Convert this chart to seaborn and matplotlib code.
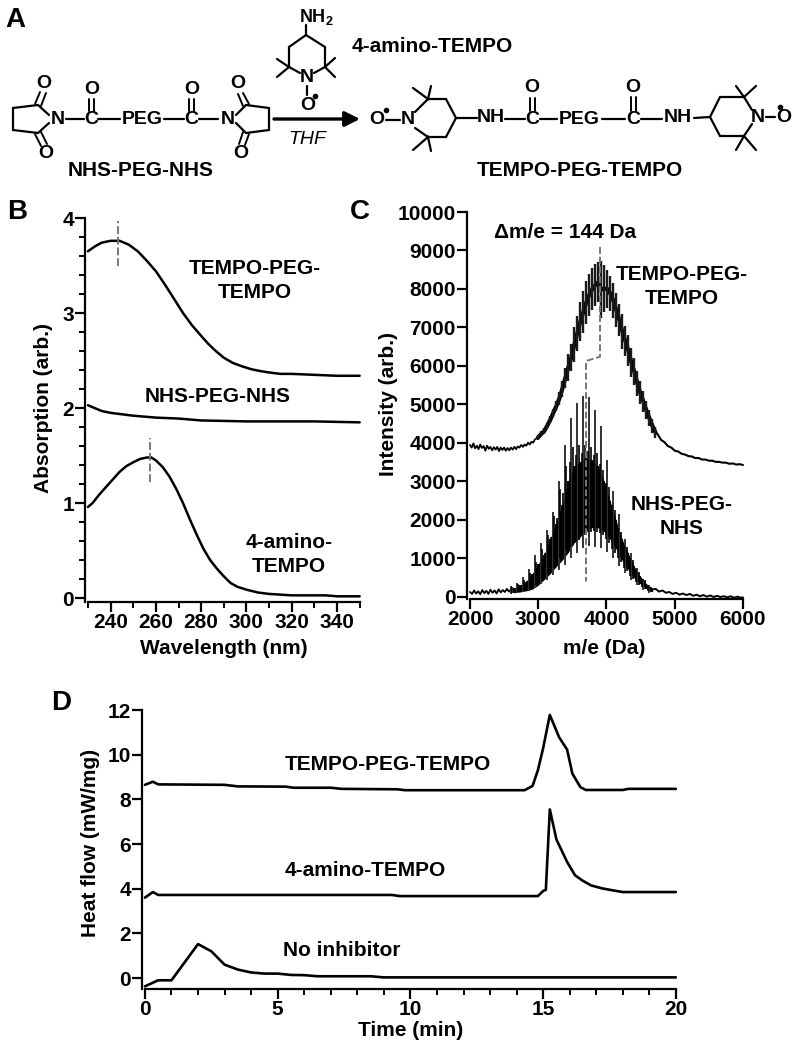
# plot.py - PEG end-capping scheme with UV, mass spec and DSC panels
import matplotlib
matplotlib.use("Agg")
import matplotlib.pyplot as plt
import seaborn as sns

sns.set_style("ticks")
plt.rcParams["font.family"] = ["Liberation Sans", "DejaVu Sans"]
plt.rcParams["font.weight"] = "bold"
plt.rcParams["axes.labelweight"] = "bold"
for key in ["text.color", "axes.labelcolor", "xtick.color", "ytick.color", "axes.edgecolor"]:
    plt.rcParams[key] = "black"

# Panel B: UV absorption
uv_tempo_x = [230, 233, 236, 240, 244, 248, 252, 256, 260, 264, 268, 272, 276, 280, 283, 286, 290, 294, 298, 302, 306, 310, 315, 320, 330, 340, 350]
uv_tempo_y = [3.65, 3.70, 3.74, 3.76, 3.76, 3.72, 3.65, 3.55, 3.44, 3.30, 3.15, 3.00, 2.87, 2.76, 2.68, 2.61, 2.53, 2.475, 2.44, 2.41, 2.39, 2.375, 2.36, 2.36, 2.35, 2.34, 2.34]
uv_nhs_x = [230, 233, 236, 240, 250, 260, 270, 280, 300, 330, 350]
uv_nhs_y = [2.03, 2.00, 1.97, 1.95, 1.92, 1.90, 1.89, 1.87, 1.86, 1.86, 1.85]
uv_amino_x = [230, 232, 235, 238, 241, 244, 247, 250, 253, 256, 258, 260, 263, 266, 269, 272, 275, 278, 281, 284, 287, 290, 293, 296, 300, 305, 310, 320, 335, 340, 350]
uv_amino_y = [0.96, 1.00, 1.09, 1.17, 1.25, 1.33, 1.39, 1.43, 1.465, 1.48, 1.48, 1.45, 1.38, 1.28, 1.15, 1.00, 0.83, 0.67, 0.52, 0.40, 0.31, 0.23, 0.16, 0.12, 0.09, 0.06, 0.045, 0.03, 0.03, 0.02, 0.02]

# Panel C: mass spectra, trace plus spike tops and bottoms
ms_tempo_x = [2000, 2025, 2050, 2075, 2100, 2125, 2150, 2175, 2200, 2225, 2250, 2275, 2300, 2325, 2350, 2375, 2400, 2425, 2450, 2475, 2500, 2525, 2550, 2575, 2600, 2625, 2650, 2675, 2700, 2725, 2750, 2775, 2800, 2825, 2850, 2875, 2900, 2925, 2950, 3000]
ms_tempo_y = [3950, 3880, 3990, 3860, 3930, 3840, 3960, 3870, 3920, 3800, 3930, 3850, 3900, 3810, 3890, 3830, 3900, 3790, 3880, 3820, 3880, 3800, 3870, 3810, 3880, 3830, 3900, 3840, 3910, 3880, 3950, 3900, 3960, 3930, 4010, 3960, 4030, 4010, 4090, 4150]
spike_tempo_x = [3000, 3044, 3088, 3132, 3176, 3220, 3264, 3308, 3352, 3396, 3440, 3484, 3528, 3572, 3616, 3660, 3704, 3748, 3792, 3836, 3880, 3924, 3968, 4012, 4056, 4100, 4144, 4188, 4232, 4276, 4320, 4364, 4408, 4452, 4496, 4540, 4584, 4628, 4672, 4716]
spike_tempo_hi = [4210, 4300, 4380, 4530, 4690, 4880, 5080, 5320, 5610, 5950, 6300, 6580, 7000, 7300, 7650, 7950, 8200, 8400, 8550, 8650, 8700, 8720, 8620, 8500, 8350, 8150, 7900, 7620, 7350, 7050, 6800, 6480, 6200, 5880, 5600, 5350, 5080, 4850, 4630, 4420]
spike_tempo_lo = [4090, 4170, 4240, 4370, 4510, 4680, 4820, 4980, 5190, 5420, 5620, 5860, 6100, 6400, 6650, 6850, 7100, 7300, 7450, 7550, 7650, 7250, 7400, 7500, 7420, 7250, 7000, 6780, 6450, 6250, 6000, 5720, 5500, 5220, 5000, 4810, 4620, 4450, 4270, 4140]
tail_tempo_x = [4716, 4760, 4800, 4850, 4900, 4950, 5000, 5050, 5100, 5150, 5200, 5250, 5300, 5350, 5400, 5450, 5500, 5550, 5600, 5650, 5700, 5750, 5800, 5850, 5900, 5950, 6000]
tail_tempo_y = [4300, 4200, 4080, 4020, 3920, 3880, 3800, 3780, 3720, 3700, 3660, 3650, 3610, 3610, 3570, 3570, 3540, 3540, 3510, 3510, 3490, 3490, 3460, 3470, 3440, 3450, 3430]

ms_nhs_x = [2000, 2030, 2060, 2090, 2120, 2150, 2180, 2210, 2240, 2270, 2300, 2330, 2360, 2390, 2420, 2450, 2480, 2510, 2540, 2570, 2600]
ms_nhs_y = [130, 80, 170, 90, 150, 70, 180, 100, 160, 80, 190, 110, 170, 90, 200, 120, 180, 130, 210, 140, 200]
tail_nhs_x = [4668, 4720, 4770, 4820, 4870, 4920, 4970, 5020, 5070, 5120, 5170, 5220, 5270, 5320, 5370, 5420, 5470, 5520, 5570, 5620, 5670, 5720, 5770, 5820, 5870, 5920, 5970, 6000]
tail_nhs_y = [190, 210, 140, 170, 110, 130, 80, 110, 60, 90, 50, 80, 30, 60, 20, 50, 10, 40, 0, 30, 0, 20, -10, 20, -20, 10, -20, -10]
tall_nhs_x = [2600, 2688, 2776, 2864, 2952, 3040, 3128, 3216, 3304, 3392, 3480, 3568, 3656, 3744, 3832, 3920, 4008, 4096, 4184, 4272, 4360, 4448, 4536, 4624]
tall_nhs_hi = [290, 370, 520, 720, 1100, 1400, 1750, 2200, 3000, 3950, 4650, 5050, 5220, 5200, 4850, 4450, 3550, 2750, 2150, 1500, 1130, 760, 480, 300]
tall_nhs_lo = [90, 100, 120, 150, 230, 340, 450, 560, 700, 830, 1000, 1150, 1260, 1320, 1300, 1260, 1170, 1010, 800, 620, 430, 300, 190, 110]
band_nhs_x = [2644, 2732, 2820, 2908, 2996, 3084, 3172, 3260, 3348, 3436, 3524, 3612, 3700, 3788, 3876, 3964, 4052, 4140, 4228, 4316, 4404, 4492, 4580, 4668]
band_nhs_hi = [230, 300, 400, 600, 850, 1100, 1500, 1900, 2400, 3000, 3400, 3500, 3600, 3550, 3400, 3000, 2500, 2000, 1500, 1150, 800, 550, 350, 230]
band_nhs_lo = [110, 130, 160, 200, 300, 450, 600, 780, 950, 1150, 1400, 1550, 1750, 1800, 1800, 1700, 1500, 1250, 950, 720, 500, 350, 220, 130]
mid_nhs_x = [2622, 2666, 2710, 2754, 2798, 2842, 2886, 2930, 2974, 3018, 3062, 3106, 3150, 3194, 3238, 3282, 3326, 3370, 3414, 3458, 3502, 3546, 3590, 3634, 3678, 3722, 3766, 3810, 3854, 3898, 3942, 3986, 4030, 4074, 4118, 4162, 4206, 4250, 4294, 4338, 4382, 4426, 4470, 4514, 4558, 4602, 4646]
mid_nhs_hi = [260, 240, 340, 300, 450, 420, 620, 560, 900, 820, 1250, 1150, 1600, 1550, 2100, 2050, 2800, 2700, 3400, 3500, 3900, 3700, 3950, 3750, 3950, 3800, 3900, 3700, 3750, 3450, 3300, 2950, 2850, 2400, 2250, 1800, 1700, 1350, 1300, 1000, 950, 700, 650, 470, 430, 300, 270]
mid_nhs_lo = [110, 120, 130, 140, 160, 180, 220, 280, 310, 400, 420, 550, 580, 720, 750, 950, 1000, 1100, 1220, 1300, 1350, 1450, 1480, 1600, 1600, 1700, 1700, 1720, 1700, 1650, 1600, 1500, 1400, 1250, 1150, 1000, 900, 750, 680, 550, 470, 380, 320, 250, 210, 160, 120]
shift_x = [3905, 3905, 3700, 3700]
shift_y = [9090, 6240, 6130, 400]

# Panel D: heat flow
dsc_tempo_t = [0, 0.3, 0.5, 3, 3.5, 5.3, 5.6, 7, 7.4, 9.5, 9.8, 14.3, 14.6, 14.8, 15, 15.25, 15.6, 15.9, 16.1, 16.4, 16.6, 18, 18.2, 20]
dsc_tempo_y = [8.65, 8.79, 8.67, 8.65, 8.58, 8.57, 8.52, 8.52, 8.47, 8.45, 8.41, 8.41, 8.6, 9.3, 10.3, 11.78, 10.78, 10.23, 9.15, 8.55, 8.42, 8.42, 8.47, 8.47]
dsc_amino_t = [0, 0.3, 0.5, 9.3, 9.6, 14.8, 15, 15.1, 15.25, 15.5, 15.9, 16.2, 16.5, 16.8, 17.2, 17.6, 18, 20]
dsc_amino_y = [3.6, 3.85, 3.72, 3.72, 3.67, 3.67, 3.9, 3.95, 7.55, 6.2, 5.2, 4.6, 4.35, 4.15, 4.02, 3.93, 3.85, 3.85]
dsc_none_t = [0, 0.5, 1, 2, 2.5, 3, 3.5, 4, 4.5, 5, 5.5, 6, 6.5, 8.5, 9, 20]
dsc_none_y = [-0.37, -0.1, -0.1, 1.52, 1.2, 0.6, 0.38, 0.25, 0.2, 0.2, 0.14, 0.13, 0.08, 0.08, 0.03, 0.03]

W, H = 798, 1049
FS = 15
fig = plt.figure(figsize=(W / 100, H / 100), dpi=100)


def make_axes(left, right, top, bottom):
    ax = fig.add_axes([left / W, 1 - bottom / H, (right - left) / W, (bottom - top) / H])
    sns.despine(ax=ax)
    for side in ["left", "bottom"]:
        ax.spines[side].set_linewidth(1.6)
    ax.patch.set_alpha(0)
    ax.tick_params(which="major", width=1.6, length=7, labelsize=FS, pad=1)
    ax.tick_params(which="minor", width=1.4, length=4)
    return ax


def trace(ax, x, y, lw=1.8, color="black"):
    sns.lineplot(x=x, y=y, ax=ax, color=color, lw=lw, sort=False, estimator=None, errorbar=None)


def axis_labels(ax, xlabel, xpos, ylabel, ypos):
    ax.set_xlabel(xlabel, fontsize=FS, va="center")
    ax.set_ylabel(ylabel, fontsize=FS, va="center")
    ax.xaxis.set_label_coords(*xpos)
    ax.yaxis.set_label_coords(*ypos)


# Panel B
ax_b = make_axes(85, 361, 218, 602)
trace(ax_b, uv_tempo_x, uv_tempo_y)
trace(ax_b, uv_nhs_x, uv_nhs_y)
trace(ax_b, uv_amino_x, uv_amino_y)
trace(ax_b, [243.3, 243.3], [3.5, 3.97], lw=1.4, color="#777777")
ax_b.lines[-1].set_linestyle((0, (4, 1.5)))
trace(ax_b, [257.3, 257.3], [1.22, 1.69], lw=1.4, color="#777777")
ax_b.lines[-1].set_linestyle((0, (4, 1.5)))
ax_b.set_xlim(228.7, 350.6)
ax_b.set_ylim(-0.04, 4)
ax_b.spines["bottom"].set_bounds(230, 350)
ax_b.set_xticks([240, 260, 280, 300, 320, 340])
ax_b.set_xticks([230, 250, 270, 290, 310, 330, 350], minor=True)
ax_b.set_yticks([0, 1, 2, 3, 4])
ax_b.set_yticks([0.2, 0.4, 0.6, 0.8, 1.2, 1.4, 1.6, 1.8, 2.2, 2.4, 2.6, 2.8, 3.2, 3.4, 3.6, 3.8], minor=True)
axis_labels(ax_b, "Wavelength (nm)", (0.504, -0.12), "Absorption (arb.)", (-0.149, 0.505))

# Panel C
ax_c = make_axes(467, 744, 212, 599)
trace(ax_c, ms_tempo_x, ms_tempo_y, lw=1.3)
trace(ax_c, spike_tempo_x, [(a + b) / 2 for a, b in zip(spike_tempo_hi, spike_tempo_lo)], lw=3)
trace(ax_c, tail_tempo_x, tail_tempo_y, lw=1.5)
ax_c.vlines(spike_tempo_x, spike_tempo_lo, spike_tempo_hi, color="#1a1a1a", lw=1.7)
trace(ax_c, ms_nhs_x, ms_nhs_y, lw=1.3)
trace(ax_c, tail_nhs_x, tail_nhs_y, lw=1.4)
ax_c.vlines(tall_nhs_x, tall_nhs_lo, tall_nhs_hi, color="#333333", lw=1.4)
ax_c.vlines(mid_nhs_x, mid_nhs_lo, mid_nhs_hi, color="black", lw=1.2)
ax_c.fill_between(band_nhs_x, band_nhs_lo, band_nhs_hi, color="black", lw=0)
ax_c.vlines(band_nhs_x, band_nhs_lo, band_nhs_hi, color="black", lw=1.4)
trace(ax_c, shift_x, shift_y, lw=1.4, color="#777777")
ax_c.lines[-1].set_linestyle((0, (3.5, 1.5)))
ax_c.set_xlim(1956, 6015)
ax_c.set_ylim(-52, 10000)
ax_c.spines["bottom"].set_bounds(2000, 6000)
ax_c.set_xticks([2000, 3000, 4000, 5000, 6000])
ax_c.set_yticks([0, 1000, 2000, 3000, 4000, 5000, 6000, 7000, 8000, 9000, 10000])
axis_labels(ax_c, "m/e (Da)", (0.495, -0.127), "Intensity (arb.)", (-0.282, 0.504))

# Panel D
ax_d = make_axes(142, 677, 710, 989)
trace(ax_d, dsc_tempo_t, dsc_tempo_y, lw=1.9)
trace(ax_d, dsc_amino_t, dsc_amino_y, lw=1.9)
trace(ax_d, dsc_none_t, dsc_none_y, lw=1.9)
ax_d.set_xlim(-0.11, 20.04)
ax_d.set_ylim(-0.49, 12)
ax_d.spines["bottom"].set_bounds(0, 20)
ax_d.set_xticks([0, 5, 10, 15, 20])
ax_d.set_xticks([1, 2, 3, 4, 6, 7, 8, 9, 11, 12, 13, 14, 16, 17, 18, 19], minor=True)
ax_d.set_yticks([0, 2, 4, 6, 8, 10, 12])
axis_labels(ax_d, "Time (min)", (0.503, -0.15), "Heat flow (mW/mg)", (-0.097, 0.523))

# Overlay in pixel space for the scheme and the labels
ov = fig.add_axes([0, 0, 1, 1], zorder=10)
ov.set_xlim(0, W)
ov.set_ylim(H, 0)
ov.axis("off")

labels = [
    ("TEMPO-PEG-", 255, 268), ("TEMPO", 255, 293), ("NHS-PEG-NHS", 218, 396),
    ("4-amino-", 289, 542), ("TEMPO", 289, 566),
    ("\u0394m/e = 144 Da", 565, 232), ("TEMPO-PEG-", 682, 275), ("TEMPO", 682, 299),
    ("NHS-PEG-", 682, 504), ("NHS", 682, 528),
    ("TEMPO-PEG-TEMPO", 388, 765), ("4-amino-TEMPO", 365, 870), ("No inhibitor", 342, 950),
    ("NHS-PEG-NHS", 141, 170), ("TEMPO-PEG-TEMPO", 580, 170), ("4-amino-TEMPO", 432, 46),
]
for text, x, y in labels:
    ov.text(x, y, text, ha="center", va="center", fontsize=FS)

for text, x, y in [("A", 15, 20), ("B", 17, 212), ("C", 360, 212), ("D", 61, 703)]:
    ov.text(x, y, text, ha="center", va="center", fontsize=20)

atoms = [
    ("N", 58, 119), ("O", 44, 83), ("O", 46, 154), ("C", 91, 119), ("O", 92, 89), ("PEG", 142, 119),
    ("C", 191, 119), ("O", 192, 89), ("N", 228, 119), ("O", 238, 84), ("O", 241, 154),
    ("N", 307, 77), ("O", 308, 105), ("O", 377, 120), ("N", 408, 120), ("NH", 491, 118),
    ("C", 532, 119), ("O", 532, 88), ("PEG", 579, 119), ("C", 633, 119), ("O", 633, 87),
    ("NH", 678, 118), ("N", 758, 117), ("O", 784, 117),
]
for text, x, y in atoms:
    ov.text(x, y, text, ha="center", va="center", fontsize=14)
ov.text(316, 17, "NH$_\\mathregular{2}$", ha="center", va="center", fontsize=13)
ov.text(307, 140, "THF", ha="center", va="center", fontsize=14, style="italic", weight="normal")
ov.plot([315, 386, 780], [96, 110, 107], "o", color="black", ms=3)

bonds = [
    [(49, 115), (38, 105), (13, 108), (13, 130), (38, 133), (49, 123)],
    [(66, 119), (84, 119)], [(98, 119), (120, 119)], [(164, 119), (184, 119)], [(199, 119), (218, 119)],
    [(236, 115), (246, 105), (269, 108), (269, 130), (246, 133), (236, 123)],
    [(306, 25), (306, 35), (325, 47), (325, 67), (314, 73)], [(306, 35), (289, 47), (289, 67), (300, 73)],
    [(277, 59), (289, 67), (277, 77)], [(335, 58), (325, 67), (335, 77)], [(307, 86), (307, 95)],
    [(386, 120), (400, 120)], [(415, 112), (428, 99), (446, 99), (456, 118), (446, 137), (428, 137), (415, 128)],
    [(413, 88), (428, 99), (431, 86)], [(413, 150), (428, 137), (431, 151)],
    [(456, 118), (477, 118)], [(505, 119), (525, 119)], [(540, 119), (557, 119)], [(602, 119), (625, 119)],
    [(641, 119), (662, 119)], [(694, 118), (710, 117), (720, 97), (744, 97), (752, 110)],
    [(710, 117), (720, 136), (744, 136), (752, 124)],
    [(736, 86), (744, 97), (756, 86)], [(736, 150), (744, 136), (756, 150)], [(766, 117), (775, 117)],
]
for pts in bonds:
    ov.plot([p[0] for p in pts], [p[1] for p in pts], color="black", lw=1.6, solid_joinstyle="miter")

double_bonds = [
    [(35, 104), (40, 92)], [(41, 106), (46, 93)], [(35, 134), (41, 146)], [(41, 132), (47, 144)],
    [(89, 99), (89, 111)], [(94, 99), (94, 111)], [(189, 99), (189, 111)], [(194, 99), (194, 111)],
    [(249, 104), (243, 93)], [(243, 106), (238, 94)], [(249, 134), (245, 145)], [(243, 132), (239, 144)],
    [(530, 98), (530, 111)], [(535, 98), (535, 111)], [(631, 97), (631, 111)], [(636, 97), (636, 111)],
]
for pts in double_bonds:
    ov.plot([p[0] for p in pts], [p[1] for p in pts], color="black", lw=1.4)

ov.annotate("", xy=(360, 119), xytext=(274, 119),
            arrowprops=dict(arrowstyle="-|>,head_length=0.9,head_width=0.45", color="black", lw=2.4, shrinkA=0, shrinkB=0))

fig.savefig("out.png", dpi=100)
